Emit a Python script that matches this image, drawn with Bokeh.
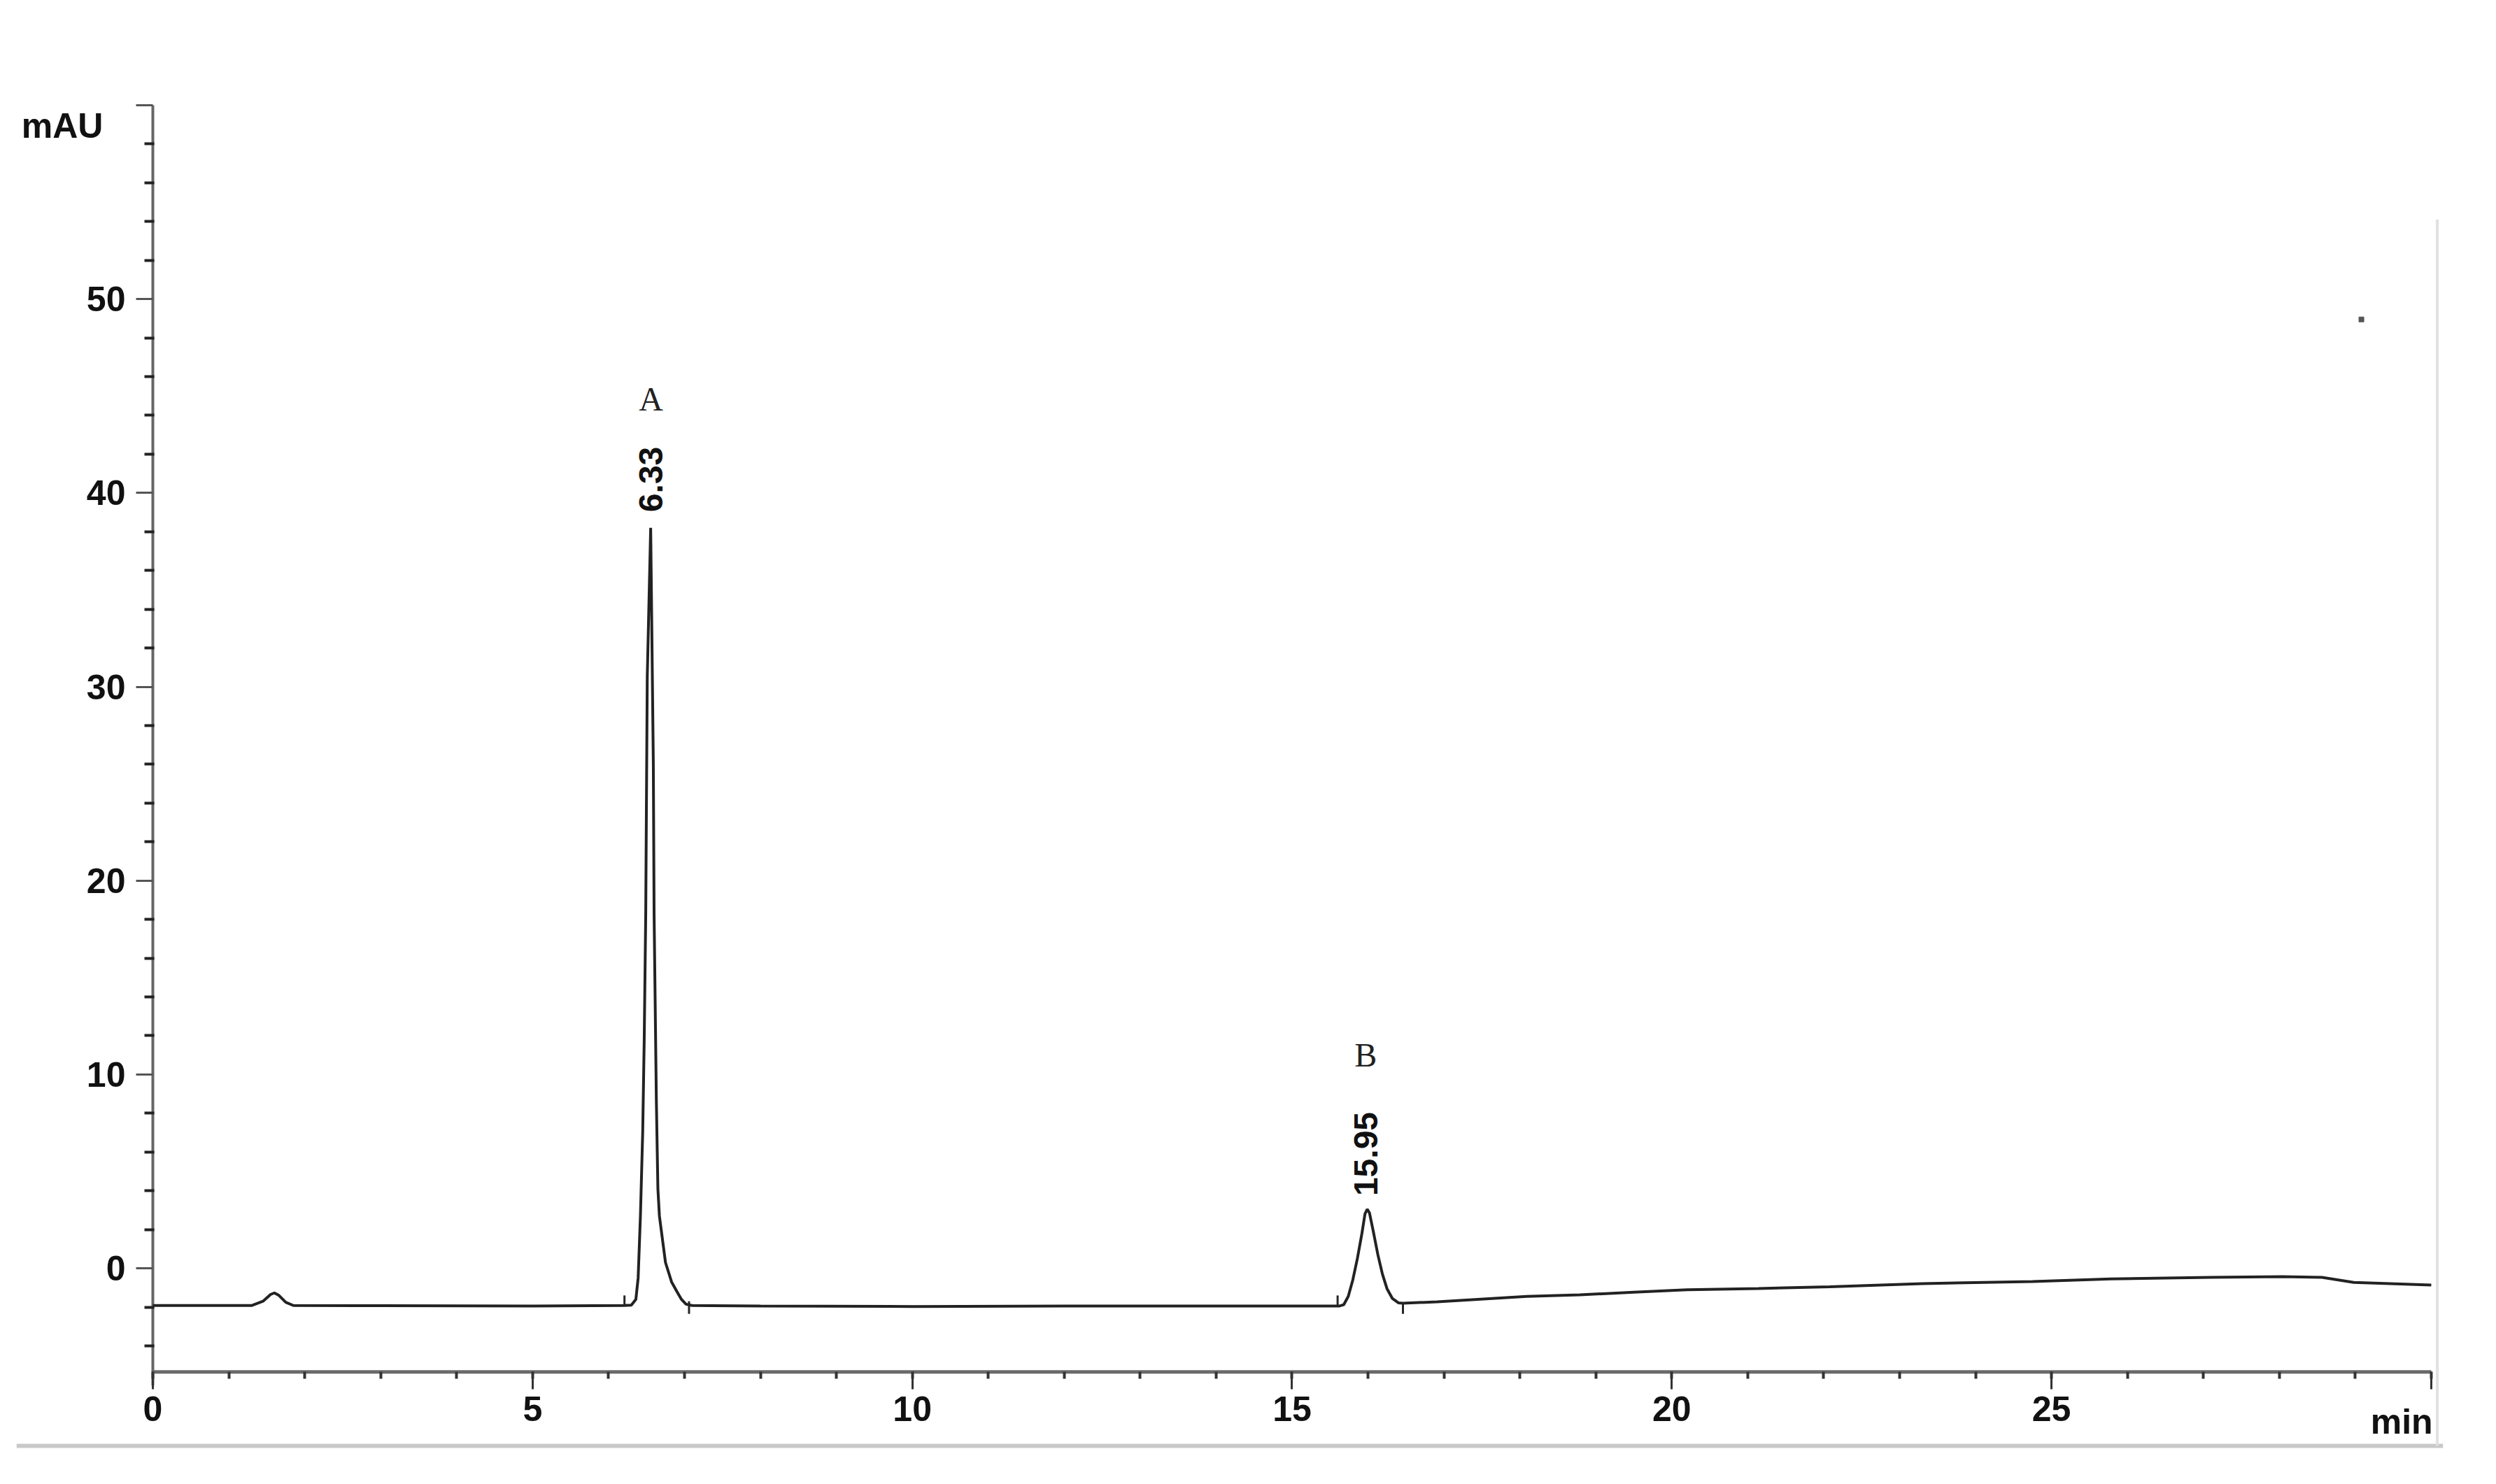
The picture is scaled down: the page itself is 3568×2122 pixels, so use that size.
import math
from bokeh.plotting import figure
from bokeh.models import FixedTicker, Range1d
from bokeh.core.properties import value
from bokeh.embed import file_html
from bokeh.resources import INLINE

# ---- data (time in min, signal in mAU) ----
start_t = [0.0, 0.6, 1.30]
start_y = [-1.92, -1.92, -1.92]

bump_t = [1.45, 1.55, 1.60, 1.66, 1.75, 1.85]
bump_y = [-1.70, -1.35, -1.27, -1.40, -1.75, -1.92]

flat1_t = [3.0, 5.0, 6.20, 6.30]
flat1_y = [-1.93, -1.95, -1.92, -1.90]

peak_a_t = [6.36, 6.39, 6.42, 6.45, 6.47, 6.49, 6.51, 6.555, 6.59, 6.60, 6.63,
            6.65, 6.67, 6.75, 6.83, 6.90, 6.96, 7.02, 7.10]
peak_a_y = [-1.6, -0.5, 2.7, 7.0, 11.8, 18.3, 30.5, 38.2, 26.0, 18.3, 8.6,
            4.1, 2.7, 0.3, -0.7, -1.2, -1.6, -1.85, -1.92]

flat2_t = [8.0, 10.0, 12.0, 14.0, 15.50, 15.62, 15.68]
flat2_y = [-1.95, -1.97, -1.95, -1.95, -1.95, -1.95, -1.88]

peak_b_t = [15.74, 15.80, 15.86, 15.92, 15.96, 15.99, 16.02, 16.07, 16.13,
            16.19, 16.25, 16.32, 16.40, 16.46]
peak_b_y = [-1.45, -0.6, 0.5, 1.8, 2.8, 3.05, 2.85, 1.9, 0.7,
            -0.3, -1.05, -1.55, -1.78, -1.80]

drift_t = [16.91, 18.09, 18.79, 19.50, 20.20, 21.14, 22.08, 23.30, 24.75,
           25.78, 27.10, 28.04, 28.56, 28.98, 30.0]
drift_y = [-1.73, -1.45, -1.37, -1.23, -1.11, -1.04, -0.95, -0.79, -0.68,
           -0.55, -0.47, -0.43, -0.47, -0.73, -0.86]

time_min = start_t + bump_t + flat1_t + peak_a_t + flat2_t + peak_b_t + drift_t
signal_mau = start_y + bump_y + flat1_y + peak_a_y + flat2_y + peak_b_y + drift_y

# integration event marks
mark_t = [6.21, 7.06, 15.60, 16.46]
mark_y0 = [-1.95, -1.70, -1.95, -1.75]
mark_y1 = [-1.40, -2.35, -1.40, -2.35]

# peak annotations
peak_names = ["A", "B"]
peak_rt_labels = ["6.33", "15.95"]
peak_label_x = [6.56, 15.97]
peak_name_y = [44.85, 11.0]
peak_rt_y = [40.7, 5.9]

stray_t = [29.08]
stray_y = [48.95]

x_major = [0, 5, 10, 15, 20, 25, 30]
x_minor = list(range(0, 31))
y_major = [0, 10, 20, 30, 40, 50, 60]
y_minor = [-4, -2] + [v for v in range(2, 60, 2) if v % 10 != 0]
y_axis_bottom = -6.05
x_axis_level = -5.35

# ---- figure ----
p = figure(frame_width=3469, frame_height=1935,
           x_range=Range1d(-1.796, 30.157), y_range=Range1d(-9.45, 60.36),
           output_backend="svg", toolbar_location=None, title=None,
           min_border_left=23, min_border_right=10, min_border_top=140,
           min_border_bottom=20,
           background_fill_color="white", border_fill_color="white",
           outline_line_color=None)
p.grid.visible = False

FONT = "Liberation Sans"

# scan border lines (light grey edge of the scanned page)
p.segment(x0=[-1.796, 30.08], y0=[-9.16, -9.16], x1=[30.157, 30.08], y1=[-9.16, 54.1],
          line_color=["#c9c9c9", "#e0e0e0"], line_width=[6, 4])

# axis lines
p.segment(x0=[x_major[0], x_major[0]], y0=[x_axis_level, y_axis_bottom],
          x1=[x_major[-1], x_major[0]], y1=[x_axis_level, y_major[-1]],
          line_color=["#6a6a6a", "#666666"], line_width=[5, 4])

# x axis (ticks and labels)
xa = p.xaxis[0]
xa.fixed_location = x_axis_level
xa.ticker = FixedTicker(ticks=x_major, minor_ticks=x_minor)
xa.major_label_overrides = {30: ""}
xa.axis_line_color = None
xa.major_tick_line_color = "#333333"
xa.major_tick_line_width = 3
xa.major_tick_out = 25
xa.major_tick_in = 0
xa.minor_tick_line_color = "#333333"
xa.minor_tick_line_width = 4
xa.minor_tick_out = 10
xa.minor_tick_in = 0
xa.major_label_text_font = FONT
xa.major_label_text_font_style = "bold"
xa.major_label_text_font_size = "50px"
xa.major_label_text_color = "#111111"
xa.major_label_standoff = 10

# y axis (ticks and labels)
ya = p.yaxis[0]
ya.fixed_location = x_major[0]
ya.ticker = FixedTicker(ticks=y_major, minor_ticks=y_minor)
ya.major_label_overrides = {60: ""}
ya.axis_line_color = None
ya.major_tick_line_color = "#555555"
ya.major_tick_line_width = 3
ya.major_tick_out = 24
ya.major_tick_in = 0
ya.minor_tick_line_color = "#222222"
ya.minor_tick_line_width = 4
ya.minor_tick_out = 12
ya.minor_tick_in = 2
ya.major_label_text_font = FONT
ya.major_label_text_font_style = "bold"
ya.major_label_text_font_size = "50px"
ya.major_label_text_color = "#111111"
ya.major_label_standoff = 15

# chromatogram trace
p.line(time_min, signal_mau, line_color="#222222", line_width=4)

# integration marks
p.segment(x0=mark_t, y0=mark_y0, x1=mark_t, y1=mark_y1,
          line_color="#262626", line_width=3)

# stray speck
p.scatter(stray_t, stray_y, marker="square", size=7, color="#555555")

# peak names (serif) and retention times (rotated)
p.text(x=peak_label_x, y=peak_name_y, text=peak_names,
       text_font=value("Liberation Serif"), text_font_size="48px",
       text_align="center", text_baseline="middle", text_color="#222222")
p.text(x=peak_label_x, y=peak_rt_y, text=peak_rt_labels, angle=math.pi / 2,
       text_font=value(FONT), text_font_style="bold", text_font_size="48px",
       text_align="center", text_baseline="middle", text_color="#111111")

# unit labels
p.text(x=[-0.654], y=[58.95], text=["mAU"],
       text_font=value(FONT), text_font_style="bold", text_font_size="50px",
       text_align="right", text_baseline="middle", text_color="#111111")
p.text(x=[30.02], y=[-7.9], text=["min"],
       text_font=value(FONT), text_font_style="bold", text_font_size="50px",
       text_align="right", text_baseline="alphabetic", text_color="#111111")

open("out.html", "w").write(file_html(p, INLINE))
